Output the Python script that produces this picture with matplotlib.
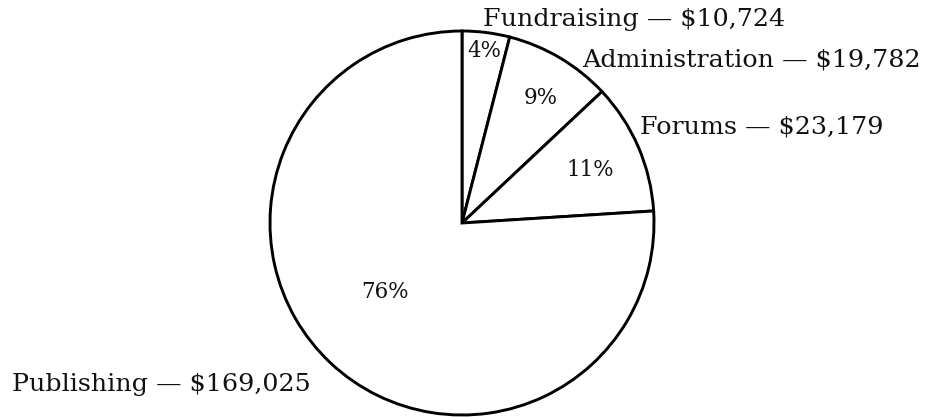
import matplotlib.pyplot as plt

# Budget breakdown
categories = ['Fundraising', 'Administration', 'Forums', 'Publishing']
amounts = [10724, 19782, 23179, 169025]
shares = [4, 9, 11, 76]

plt.rcParams['font.family'] = ['DejaVu Serif']

fig = plt.figure(figsize=(9.42, 4.17), dpi=100)
ax = fig.add_axes([0, 0, 1, 1])

# Pie drawn in pixel-like data units
wedges, _ = ax.pie(shares, startangle=90, counterclock=False,
                   center=(462, 417 - 223), radius=192,
                   colors=['white'] * 4,
                   wedgeprops={'edgecolor': 'black', 'linewidth': 2.1})
ax.set_xlim(0, 942)
ax.set_ylim(0, 417)
ax.set_aspect('equal')
ax.axis('off')

# Category labels
label_pos = [(483, 19), (582, 60), (640, 127), (12, 384)]
for name, amt, (x, y) in zip(categories, amounts, label_pos):
    ax.text(x, 417 - y, f'{name} — ${amt:,}', ha='left', va='center',
            fontsize=18.3, color='#111111')

# Percent labels
pct_pos = [(484, 51), (541, 98), (590, 170), (385, 292)]
for s, (x, y) in zip(shares, pct_pos):
    ax.text(x, 417 - y, f'{s}%', ha='center', va='center',
            fontsize=15.5, color='#111111')

fig.savefig('out.png', dpi=100)
